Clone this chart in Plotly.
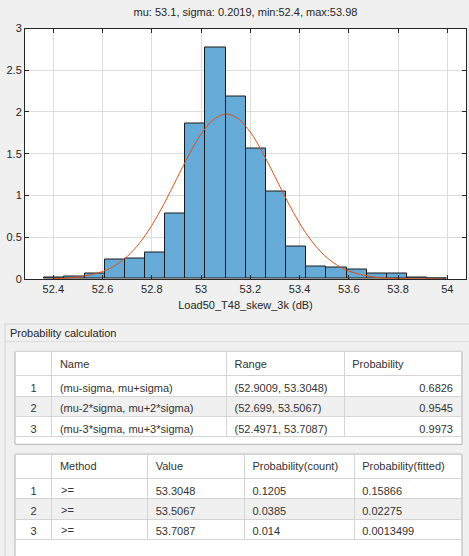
import plotly.graph_objects as go

# histogram (pdf normalised)
bin_edges = [52.363, 52.445, 52.527, 52.609, 52.690, 52.772, 52.854, 52.936,
             53.018, 53.100, 53.182, 53.263, 53.345, 53.427, 53.509, 53.591,
             53.673, 53.755, 53.836, 53.918, 54.000]
bin_heights = [0.012, 0.035, 0.070, 0.234, 0.246, 0.316, 0.785, 1.863, 2.777, 2.187,
               1.566, 1.047, 0.395, 0.152, 0.141, 0.117, 0.070, 0.070, 0.023, 0.008]

# fitted normal curve (mu 53.1, sigma 0.2019), sampled points
curve_x = [52.40, 52.50, 52.60, 52.65, 52.70, 52.75, 52.80, 52.85, 52.90, 52.95, 53.00,
           53.05, 53.10, 53.15, 53.20, 53.25, 53.30, 53.35, 53.40, 53.45, 53.50,
           53.55, 53.60, 53.70, 53.80, 53.98]
curve_y = [0.0046, 0.0229, 0.0890, 0.1598, 0.2699, 0.4289, 0.6416, 0.902, 1.193, 1.4836, 1.7355,
           1.9094, 1.9755, 1.9225, 1.7598, 1.515, 1.2268, 0.9342, 0.6691, 0.4509, 0.2857,
           0.1703, 0.0954, 0.0250, 0.0051, 0.0002]

title_text = "mu: 53.1, sigma: 0.2019, min:52.4, max:53.98"
x_label = "Load50_T48_skew_3k (dB)"
panel_title = "Probability calculation"

# table 1
t1_header = ["", "Name", "Range", "Probability"]
t1_index = ["1", "2", "3"]
t1_name = ["(mu-sigma, mu+sigma)", "(mu-2*sigma, mu+2*sigma)", "(mu-3*sigma, mu+3*sigma)"]
t1_range = ["(52.9009, 53.3048)", "(52.699, 53.5067)", "(52.4971, 53.7087)"]
t1_prob = ["0.6826", "0.9545", "0.9973"]

# table 2
t2_header = ["", "Method", "Value", "Probability(count)", "Probability(fitted)"]
t2_index = ["1", "2", "3"]
t2_method = [">=", ">=", ">="]
t2_value = ["53.3048", "53.5067", "53.7087"]
t2_count = ["0.1205", "0.0385", "0.014"]
t2_fitted = ["0.15866", "0.02275", "0.0013499"]

W, H = 469, 556
FONT = "Liberation Sans, Arial, sans-serif"


def px(x):
    return x / W


def py(y):
    return 1 - y / H


centers = [(a + b) / 2 for a, b in zip(bin_edges[:-1], bin_edges[1:])]
widths = [b - a for a, b in zip(bin_edges[:-1], bin_edges[1:])]

fig = go.Figure()
fig.add_trace(go.Bar(
    x=centers, y=bin_heights, width=widths,
    marker=dict(color="rgb(102,170,215)", line=dict(color="#1a1a1a", width=1)),
    hoverinfo="skip", showlegend=False))
fig.add_trace(go.Scatter(
    x=curve_x, y=curve_y, mode="lines", line=dict(color="#D95319", width=1, shape="spline"),
    hoverinfo="skip", showlegend=False))

row_fill = ["white", "#f0f0f0", "white"]
txt = "#333333"
HDR_H, ROW_H = 24.5, 20.3
T1_TOP, T2_TOP = 353, 458

fig.add_trace(go.Table(
    domain=dict(x=[px(15), px(462)], y=[py(448), py(T1_TOP)]),
    columnwidth=[37, 175, 118, 117],
    header=dict(values=t1_header, height=HDR_H, fill_color="white",
                line=dict(color="#d4d4d4", width=1),
                align=["center", "left", "left", "left"],
                font=dict(family=FONT, size=11, color=txt)),
    cells=dict(values=[t1_index, t1_name, t1_range, t1_prob], height=ROW_H,
               fill_color=[row_fill] * 4,
               line=dict(color="#d4d4d4", width=1),
               align=["center", "left", "left", "right"],
               font=dict(family=FONT, size=11, color=txt))))

# ">" would make plotly's table grow the row, so the Method text goes in as annotations
fig.add_trace(go.Table(
    domain=dict(x=[px(15), px(462)], y=[py(556), py(T2_TOP)]),
    columnwidth=[37, 96, 97, 110, 107],
    header=dict(values=t2_header, height=HDR_H, fill_color="white",
                line=dict(color="#d4d4d4", width=1),
                align=["center", "left", "left", "left", "left"],
                font=dict(family=FONT, size=11, color=txt)),
    cells=dict(values=[t2_index, [""] * len(t2_method), t2_value, t2_count, t2_fitted],
               height=ROW_H,
               fill_color=[row_fill] * 5,
               line=dict(color="#d4d4d4", width=1),
               align=["center", "left", "left", "left", "left"],
               font=dict(family=FONT, size=11, color=txt))))

shapes = [
    # panel
    dict(type="rect", xref="paper", yref="paper", x0=px(5), x1=px(480), y0=py(570), y1=py(325),
         line=dict(color="#d2d2d2", width=1), fillcolor="#f0f0f0", layer="below"),
    dict(type="line", xref="paper", yref="paper", x0=px(5), x1=1, y0=py(343), y1=py(343),
         line=dict(color="#dcdcdc", width=1), layer="below"),
    # table frames
    dict(type="rect", xref="paper", yref="paper", x0=px(15), x1=px(462), y0=py(448), y1=py(353),
         line=dict(color="#b4b4b4", width=1), fillcolor="white", layer="below"),
    dict(type="rect", xref="paper", yref="paper", x0=px(15), x1=px(462), y0=py(570), y1=py(458),
         line=dict(color="#b4b4b4", width=1), fillcolor="white", layer="below"),
]

annotations = [dict(text=panel_title, xref="paper", yref="paper", x=px(8), y=py(334),
                    xanchor="left", yanchor="middle", showarrow=False,
                    font=dict(family=FONT, size=11, color="#262626"))]
for i, m in enumerate(t2_method):
    annotations.append(dict(
        text=m.replace(">", "&gt;"), xref="paper", yref="paper",
        x=px(15 + 37 + 7), y=py(T2_TOP + HDR_H + ROW_H * (i + 0.5) + 2),
        xanchor="left", yanchor="middle", showarrow=False,
        font=dict(family=FONT, size=11, color=txt)))

axis_common = dict(
    showline=True, linecolor="#262626", linewidth=1, mirror="ticks",
    ticks="inside", ticklen=4, tickcolor="#262626",
    showgrid=True, gridcolor="#dcdcdc", zeroline=False,
    tickfont=dict(family=FONT, size=11, color="#262626"),
    fixedrange=True,
)

fig.update_layout(
    width=W, height=H,
    margin=dict(l=0, r=0, t=0, b=0),
    paper_bgcolor="#f0f0f0", plot_bgcolor="white",
    bargap=0,
    title=dict(text=title_text, x=px(245.5), xanchor="center", y=py(12), yanchor="middle",
               font=dict(family=FONT, size=11, color="#262626")),
    xaxis=dict(axis_common, domain=[px(25), px(466)], range=[52.285, 54.076],
               tick0=52.4, dtick=0.2,
               title=dict(text=x_label, standoff=7, font=dict(family=FONT, size=11, color="#262626"))),
    yaxis=dict(axis_common, domain=[py(279), py(23)], range=[0, 3], dtick=0.5),
    shapes=shapes,
    annotations=annotations,
)

fig.write_html("out.html", config={"displayModeBar": False},
               post_script="document.body.style.margin='0';document.body.style.overflow='hidden';")
